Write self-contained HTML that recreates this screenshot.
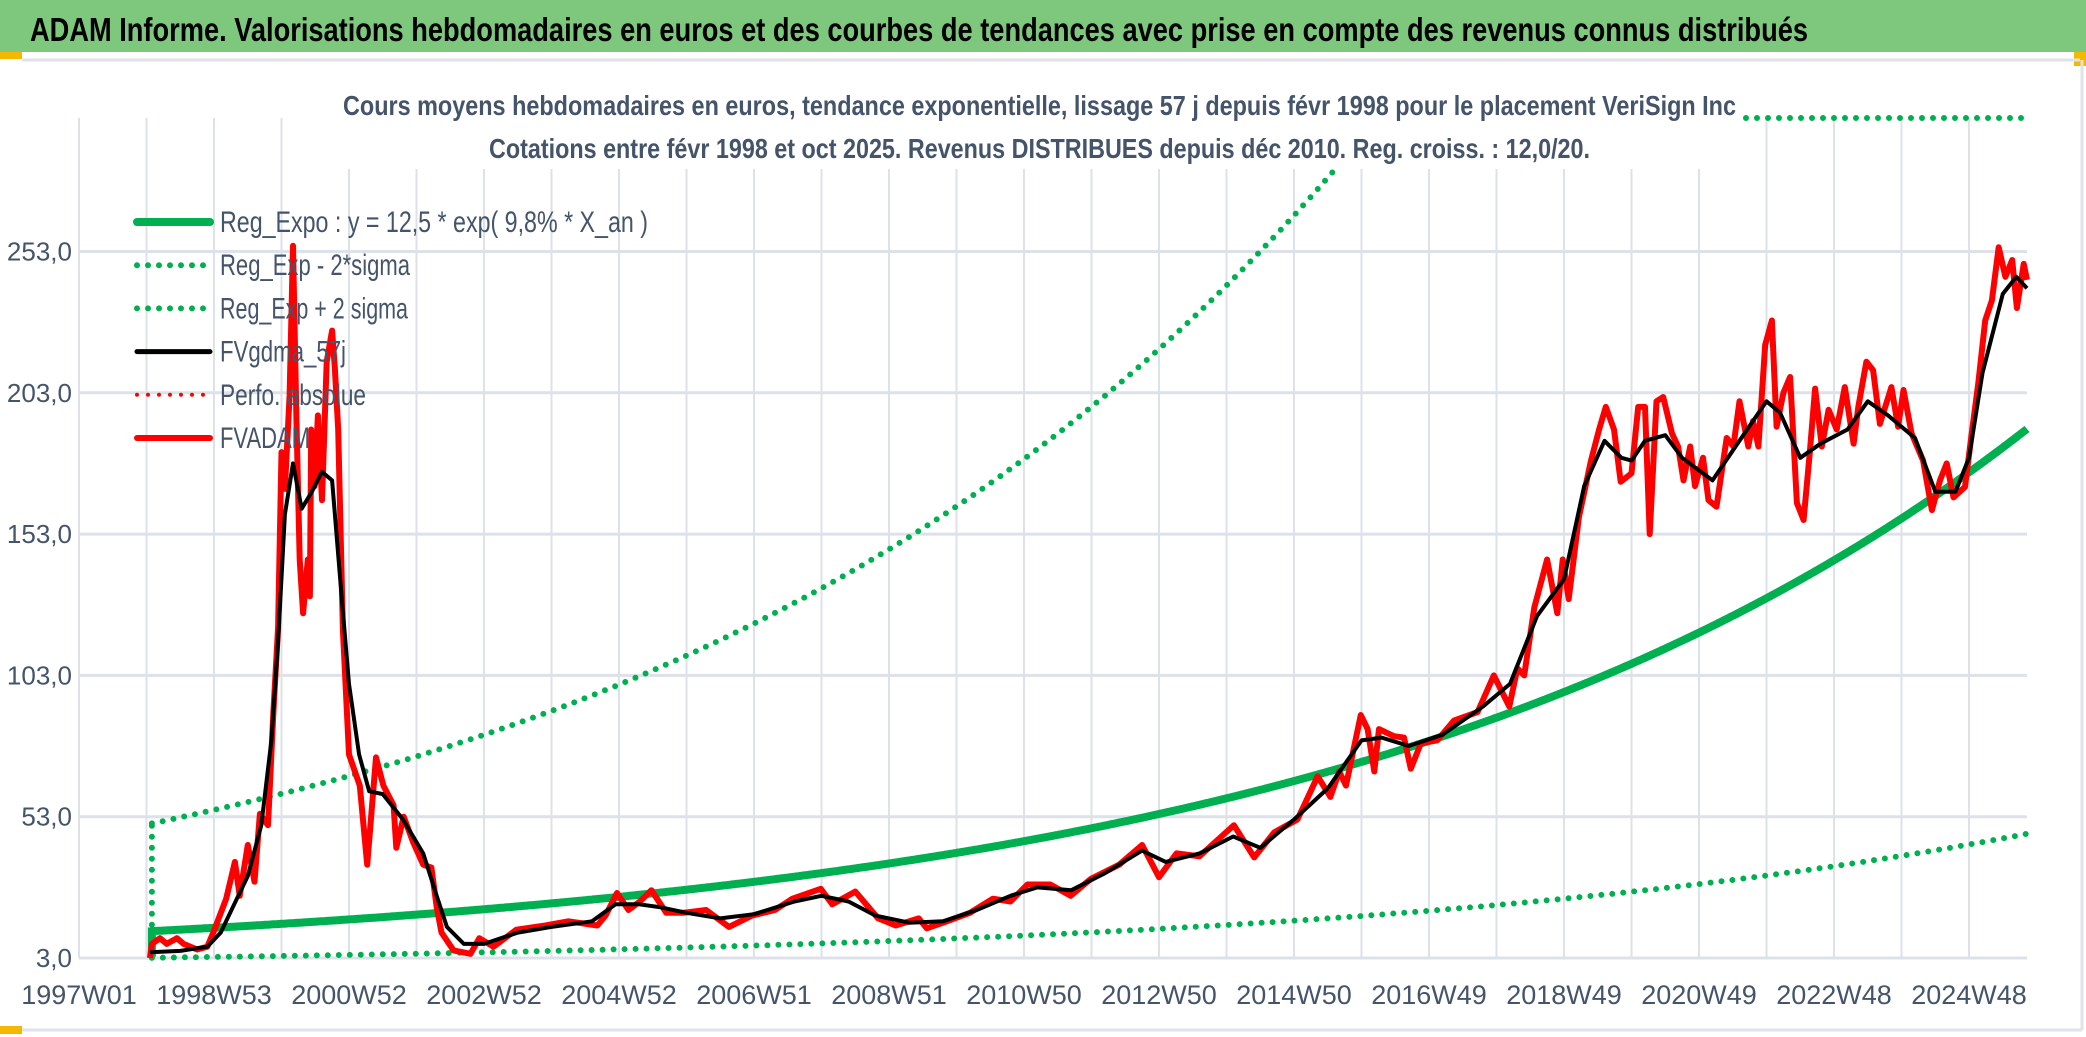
<!DOCTYPE html>
<html><head><meta charset="utf-8"><style>
html,body{margin:0;padding:0;background:#fff;}
svg{display:block;}
text{font-family:"Liberation Sans Narrow","Liberation Sans",sans-serif;}
</style></head><body>
<svg id="chart" width="2086" height="1037" viewBox="0 0 2086 1037" xmlns="http://www.w3.org/2000/svg">
<rect x="0" y="0" width="2086" height="1037" fill="#fff"/>
<rect x="0" y="0" width="2086" height="52" fill="#7ec87e"/>
<rect x="0" y="52" width="22" height="7" fill="#f5b800"/>
<rect x="2074" y="52" width="12" height="14" fill="#f5b800"/>
<line x1="22" y1="60" x2="2080" y2="60" stroke="#dfe2e8" stroke-width="3"/>
<line x1="2082" y1="60" x2="2082" y2="1030" stroke="#dfe2e8" stroke-width="3"/>
<line x1="22" y1="1030" x2="2082" y2="1030" stroke="#dfe2e8" stroke-width="3"/>
<rect x="0" y="1026" width="22" height="8" fill="#f5b800"/>
<text x="30" y="41" font-size="33" font-weight="bold" fill="#000" textLength="1778" lengthAdjust="spacingAndGlyphs">ADAM Informe. Valorisations hebdomadaires en euros et des courbes de tendances avec prise en compte des revenus connus distribués</text>
<g id="grid"></g>
<rect x="338" y="62" width="1404" height="107" fill="#fff"/>
<text x="343" y="115" font-size="28" font-weight="bold" fill="#44546a" textLength="1393" lengthAdjust="spacingAndGlyphs">Cours moyens hebdomadaires en euros, tendance exponentielle, lissage 57 j depuis févr 1998 pour le placement VeriSign Inc</text>
<text x="489" y="158" font-size="28" font-weight="bold" fill="#44546a" textLength="1101" lengthAdjust="spacingAndGlyphs">Cotations entre févr 1998 et oct 2025. Revenus DISTRIBUES depuis déc 2010. Reg. croiss. : 12,0/20.</text>
<g id="axes"></g>
<g id="series"></g>
<g id="legend"></g>
</svg>
<script>
const yTicks = [3, 53, 103, 153, 203, 253];
const yTickLabels = ["3,0", "53,0", "103,0", "153,0", "203,0", "253,0"];
const xTickYears = [1997, 1999, 2001, 2003, 2005, 2007, 2009, 2011, 2013, 2015, 2017, 2019, 2021, 2023, 2025];
const xTickLabels = ["1997W01", "1998W53", "2000W52", "2002W52", "2004W52", "2006W51", "2008W51", "2010W50", "2012W50", "2014W50", "2016W49", "2018W49", "2020W49", "2022W48", "2024W48"];
const regParams = [12.5, 0.098, 4.05]; // a, rate, exp(2 sigma)
const regStartYear = [1998.08, 2025.87];
const redYears = [1998.05,1998.08,1998.2,1998.3,1998.45,1998.55,1998.75,1998.9,1998.99,1999.18,1999.31,1999.38,1999.5,1999.6,1999.68,1999.8,1999.88,1999.95,2000.0,2000.05,2000.12,2000.17,2000.22,2000.27,2000.32,2000.39,2000.42,2000.44,2000.49,2000.54,2000.6,2000.67,2000.75,2000.79,2000.84,2000.91,2001.0,2001.16,2001.27,2001.4,2001.51,2001.66,2001.7,2001.81,2001.95,2002.1,2002.22,2002.3,2002.37,2002.55,2002.8,2002.93,2003.14,2003.48,2003.91,2004.25,2004.68,2004.8,2004.97,2005.14,2005.31,2005.48,2005.7,2005.95,2006.29,2006.63,2006.97,2007.31,2007.57,2007.99,2008.16,2008.5,2008.84,2009.1,2009.44,2009.56,2009.86,2010.2,2010.54,2010.8,2011.05,2011.39,2011.69,2011.99,2012.41,2012.75,2013.0,2013.26,2013.6,2014.11,2014.41,2014.71,2015.05,2015.15,2015.35,2015.54,2015.67,2015.77,2015.99,2016.09,2016.19,2016.26,2016.48,2016.63,2016.73,2016.88,2017.12,2017.37,2017.72,2017.96,2018.19,2018.31,2018.41,2018.56,2018.75,2018.9,2018.98,2019.07,2019.22,2019.4,2019.52,2019.62,2019.74,2019.84,2020.0,2020.1,2020.2,2020.27,2020.37,2020.47,2020.6,2020.69,2020.77,2020.87,2020.94,2021.06,2021.14,2021.26,2021.41,2021.51,2021.6,2021.73,2021.8,2021.88,2021.98,2022.08,2022.15,2022.25,2022.35,2022.45,2022.55,2022.64,2022.72,2022.82,2022.92,2023.04,2023.16,2023.29,2023.36,2023.48,2023.58,2023.68,2023.85,2023.95,2024.03,2024.15,2024.32,2024.45,2024.57,2024.67,2024.77,2024.94,2025.04,2025.14,2025.24,2025.34,2025.44,2025.54,2025.64,2025.71,2025.81,2025.86];
const redValues = [3,8,10,8,10,8,6,7,12,24,37,25,43,30,54,50,90,120,182,169,202,255,194,144,125,144,131,190,170,195,165,214,225,212,190,119,75,64,36,74,64,57,42,53,44,36,35,21,12,5.7,4.5,10,7,13,14.5,16,14.5,18,26,20,23,27,19,19,20,14,18,20,24,27.5,22,26.5,17,14.5,17,13.5,16,19,24,23,29,29,25,31,36,43,31.6,40,39,50,38.6,47.5,52,57,67.3,60,69,64,89,84,69,84,81.5,81,70,79,80,87,90,103,92,105.5,103,127,144,125,144,130,159,179,190,198,190,171.5,174.5,198,198,153,200,201.5,188.6,184,172,184,170,180,165,162.7,187,184,200,184,193,184,220,228.6,191,203,208.6,164,158,181.5,204.5,184,197,190,205,185,198,214,211,192,205,191,204,188.6,179,161.5,172,178,166,169.7,188.6,207,228.6,235.7,254.5,244,250,233,248.6,243];
const blackYears = [1998.05,1998.5,1998.9,1999.1,1999.3,1999.5,1999.7,1999.85,1999.95,2000.05,2000.17,2000.3,2000.45,2000.6,2000.75,2000.9,2001.0,2001.15,2001.3,2001.5,2001.8,2002.1,2002.3,2002.45,2002.7,2003.0,2003.5,2004.0,2004.6,2004.95,2005.3,2005.6,2006.0,2006.5,2007.0,2007.6,2008.0,2008.4,2008.8,2009.3,2009.8,2010.3,2010.8,2011.2,2011.7,2012.2,2012.75,2013.1,2013.6,2014.1,2014.5,2015.0,2015.5,2016.0,2016.3,2016.7,2017.2,2017.8,2018.2,2018.6,2019.0,2019.3,2019.6,2019.85,2020.0,2020.2,2020.5,2020.75,2021.2,2021.6,2022.0,2022.2,2022.5,2022.8,2023.2,2023.5,2023.8,2024.2,2024.5,2024.8,2025.0,2025.2,2025.5,2025.7,2025.86];
const blackValues = [5,5.5,7,12,22,32,50,80,115,160,178,162,168,175,172,128,100,75,62,61,52,40,25,14,8,8,12,14,16,22,22,21,19,17,18.5,23,25,23,18,15.5,16,20,25,28,27,33,41,37,40,46,42,52,63,80,81,78,82,92,100,124,137,170,186,180,179,186,188,180,172,186,200,196,180,185,190,200,195,187,168,168,180,210,238,244,240];

const NS = "http://www.w3.org/2000/svg";
const X0 = 79, PXY = 67.5, Y0 = 958, PXV = 141.3 / 50, XR = 2027, YTOP = 118;
function xs(yr){ return X0 + (yr - 1997) * PXY; }
function ys(v){ return Y0 - (v - 3) * PXV; }
function mk(tag, attrs, parent){ const e = document.createElementNS(NS, tag); for (const k in attrs) e.setAttribute(k, attrs[k]); parent.appendChild(e); return e; }
const grid = document.getElementById('grid'), axes = document.getElementById('axes'), series = document.getElementById('series'), legend = document.getElementById('legend');

for (let y = 1997; y <= 2025; y++) {
  const l = mk('line', {x1: xs(y), x2: xs(y), y1: YTOP, y2: Y0, stroke: '#dde1ea', 'stroke-width': 2}, grid);
  
  
}
yTicks.forEach((v, i) => {
  const l = mk('line', {x1: X0, x2: XR, y1: ys(v), y2: ys(v), stroke: '#dde1ea', 'stroke-width': 3}, grid);
  
  
  const t = mk('text', {x: 72, y: ys(v) + 9, 'text-anchor': 'end', 'font-size': 26, fill: '#44546a'}, axes);
  t.textContent = yTickLabels[i];
  
  
});
xTickYears.forEach((yr, i) => {
  const t = mk('text', {x: xs(yr), y: 1004, 'text-anchor': 'middle', 'font-size': 27, fill: '#44546a'}, axes);
  t.textContent = xTickLabels[i];
  
  
});

function reg(yr){ return regParams[0] * Math.exp(regParams[1] * (yr - regStartYear[0])); }
function bandPath(f){
  let d = '', pen = false;
  for (let yr = regStartYear[0]; yr <= regStartYear[1]; yr += 0.02) {
    const y = ys(f(yr));
    if (y < 168) { pen = false; continue; }
    d += (pen ? 'L' : 'M') + xs(yr).toFixed(1) + ' ' + y.toFixed(1);
    pen = true;
  }
  return d;
}
const x0 = xs(regStartYear[0]);
const vStart = mk('path', {d: 'M' + x0 + ' ' + ys(reg(regStartYear[0]) / regParams[2]) + 'L' + x0 + ' ' + ys(reg(regStartYear[0]) * regParams[2]), stroke: '#00b050', 'stroke-width': 6, 'stroke-dasharray': '0 11', 'stroke-linecap': 'round', fill: 'none'}, series);


const up = mk('path', {d: bandPath(yr => reg(yr) * regParams[2]), stroke: '#00b050', 'stroke-width': 6, 'stroke-dasharray': '0 11', 'stroke-linecap': 'round', fill: 'none'}, series);


const capLine = mk('path', {d: 'M1746 ' + YTOP + 'L' + (XR - 3) + ' ' + YTOP, stroke: '#00b050', 'stroke-width': 6, 'stroke-dasharray': '0 11', 'stroke-linecap': 'round', fill: 'none'}, series);


const lo = mk('path', {d: bandPath(yr => reg(yr) / regParams[2]), stroke: '#00b050', 'stroke-width': 6, 'stroke-dasharray': '0 11', 'stroke-linecap': 'round', fill: 'none'}, series);


const rg = mk('path', {d: 'M' + x0 + ' ' + ys(3.5) + bandPath(reg).replace(/^M/, 'L'), stroke: '#00b050', 'stroke-width': 8, fill: 'none'}, series);



function linePath(xa, va){ return xa.map((yr, i) => (i ? 'L' : 'M') + xs(yr).toFixed(1) + ' ' + ys(va[i]).toFixed(1)).join(''); }
const red = mk('path', {d: linePath(redYears, redValues), stroke: '#ff0000', 'stroke-width': 6, fill: 'none', 'stroke-linejoin': 'round'}, series);


const blk = mk('path', {d: linePath(blackYears, blackValues), stroke: '#000', 'stroke-width': 4, fill: 'none', 'stroke-linejoin': 'round'}, series);



const legendItems = [
  ["Reg_Expo : y = 12,5 * exp( 9,8% *  X_an )", '#00b050', 'solid', 428, 8],
  ["Reg_Exp - 2*sigma", '#00b050', 'dot', 190, 6],
  ["Reg_Exp + 2 sigma", '#00b050', 'dot', 188, 6],
  ["FVgdma_57j", '#000000', 'solid', 126, 5],
  ["Perfo. absolue", '#ff0000', 'dot', 146, 4],
  ["FVADAM", '#ff0000', 'solid', 90, 6]
];
legendItems.forEach((it, i) => {
  const y = 222 + i * 43.2;
  const g = mk('g', {}, legend);
  
  
  const a = {x1: 137, x2: 210, y1: y, y2: y, stroke: it[1], 'stroke-width': it[4], 'stroke-linecap': 'round'};
  if (it[2] === 'dot') a['stroke-dasharray'] = '0 11';
  mk('line', a, g);
  const t = mk('text', {x: 220, y: y + 10, 'font-size': 30, fill: '#44546a', textLength: it[3], lengthAdjust: 'spacingAndGlyphs'}, g);
  t.textContent = it[0];
});
</script>
</body></html>
